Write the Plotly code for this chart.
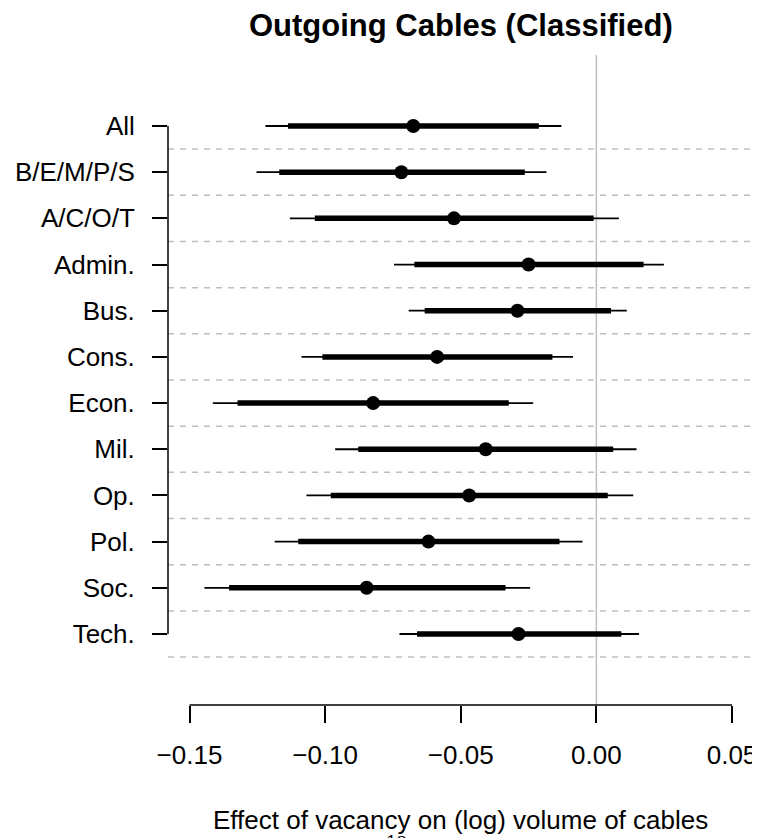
import plotly.graph_objects as go

# ---- data ----
categories = ["All", "B/E/M/P/S", "A/C/O/T", "Admin.", "Bus.", "Cons.",
              "Econ.", "Mil.", "Op.", "Pol.", "Soc.", "Tech."]
estimate = [-0.0675, -0.0719, -0.0525, -0.0250, -0.0291, -0.0587,
            -0.0823, -0.0408, -0.0469, -0.0619, -0.0847, -0.0287]
inner_lo = [-0.1137, -0.1169, -0.1038, -0.0671, -0.0633, -0.1010,
            -0.1323, -0.0878, -0.0979, -0.1099, -0.1354, -0.0661]
inner_hi = [-0.0212, -0.0264, -0.0010, 0.0174, 0.0054, -0.0162,
            -0.0323, 0.0062, 0.0042, -0.0136, -0.0335, 0.0092]
outer_lo = [-0.1220, -0.1253, -0.1130, -0.0746, -0.0692, -0.1087,
            -0.1414, -0.0963, -0.1069, -0.1186, -0.1445, -0.0726]
outer_hi = [-0.0129, -0.0184, 0.0083, 0.0249, 0.0112, -0.0086,
            -0.0233, 0.0148, 0.0136, -0.0051, -0.0244, 0.0157]
x_ticks = [-0.15, -0.10, -0.05, 0.00, 0.05]
x_ticktext = ["\u22120.15", "\u22120.10", "\u22120.05", "0.00", "0.05"]

title_text = "<b>Outgoing Cables (Classified)</b>"
xlab_text = "Effect of vacancy on (log) volume of cables"
page_number = "12"

FONT = "Liberation Sans, Arial, Helvetica, sans-serif"
rows = list(range(len(categories)))

fig = go.Figure()

# outer (thin) intervals
xs, ys = [], []
for i in rows:
    xs += [outer_lo[i], outer_hi[i], None]
    ys += [i, i, None]
fig.add_trace(go.Scatter(x=xs, y=ys, mode="lines",
                         line=dict(color="black", width=1.8),
                         showlegend=False, hoverinfo="skip"))

# inner (thick) intervals
xs, ys = [], []
for i in rows:
    xs += [inner_lo[i], inner_hi[i], None]
    ys += [i, i, None]
fig.add_trace(go.Scatter(x=xs, y=ys, mode="lines",
                         line=dict(color="black", width=5.5),
                         showlegend=False, hoverinfo="skip"))

# point estimates
fig.add_trace(go.Scatter(x=estimate, y=rows, mode="markers",
                         marker=dict(color="black", size=14, line=dict(width=0)),
                         showlegend=False))

shapes = []
# dashed separators between rows
for i in rows:
    shapes.append(dict(type="line", xref="x domain", yref="y",
                       x0=0, x1=1, y0=i + 0.5, y1=i + 0.5,
                       line=dict(color="#BEBEBE", width=1.5, dash="6px,6px"),
                       layer="below"))
# zero reference line
shapes.append(dict(type="line", xref="x", yref="y domain",
                   x0=0, x1=0, y0=0, y1=1,
                   line=dict(color="#BEBEBE", width=1.5), layer="below"))
# x axis line (only across tick span)
shapes.append(dict(type="line", xref="x", yref="y domain",
                   x0=x_ticks[0], x1=x_ticks[-1], y0=0, y1=0,
                   line=dict(color="black", width=1.5)))
# y axis line (only across category span)
shapes.append(dict(type="line", xref="x domain", yref="y",
                   x0=0, x1=0, y0=rows[0], y1=rows[-1],
                   line=dict(color="black", width=1.5)))

# The page places the figure 8px from the top-left corner, so the figure is
# 8px smaller than the window and its margins are 8px smaller.
fig.update_layout(
    width=752, height=830,
    margin=dict(l=160, r=0, t=47, b=133),
    paper_bgcolor="white", plot_bgcolor="white",
    font=dict(family=FONT, color="black", size=26),
    shapes=shapes,
    showlegend=False,
    xaxis=dict(range=[-0.157926, 0.060323], showgrid=False, zeroline=False,
               showline=False, ticks="outside", ticklen=17, tickwidth=1.5,
               tickcolor="black", tickvals=x_ticks, ticktext=x_ticktext,
               tickfont=dict(size=26, family=FONT), ticklabelstandoff=10,
               ticklabeloverflow="allow", fixedrange=True),
    yaxis=dict(range=[12.538, -1.5375], showgrid=False, zeroline=False,
               showline=False, ticks="outside", ticklen=15, tickwidth=1.5,
               tickcolor="black", tickvals=rows, ticktext=categories,
               tickfont=dict(size=26, family=FONT), ticklabelstandoff=12,
               fixedrange=True),
    annotations=[
        dict(text=page_number, xref="x", yref="paper", x=-0.0735, y=-0.1923,
             xanchor="center", yanchor="top", showarrow=False,
             font=dict(size=17, family="DejaVu Serif, Liberation Serif, serif",
                       color="black")),
        dict(text=title_text, xref="x", yref="paper", x=-0.05, y=1.0454,
             xanchor="center", yanchor="middle", showarrow=False,
             font=dict(size=31, family=FONT, color="black")),
        dict(text=xlab_text, xref="x", yref="paper", x=-0.05, y=-0.1762,
             xanchor="center", yanchor="middle", showarrow=False,
             font=dict(size=26, family=FONT, color="black")),
    ],
)

fig.write_html("out.html")
